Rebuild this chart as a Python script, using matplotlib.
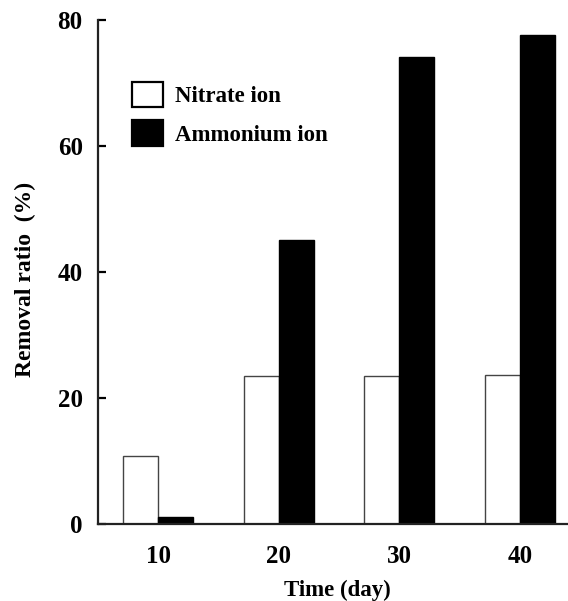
import numpy as np
import matplotlib
matplotlib.use("Agg")
import matplotlib.pyplot as plt
from matplotlib.patches import Patch

plt.rcParams['font.family'] = ['Liberation Serif', 'DejaVu Serif']
plt.rcParams['font.weight'] = 'bold'

# data
days = [10, 20, 30, 40]
nitrate = [10.8, 23.5, 23.5, 23.7]
ammonium = [1.1, 45.1, 74.1, 77.7]

fig = plt.figure(figsize=(5.68, 6.01), dpi=100)
ax = fig.add_axes([0.1725, 0.128, 0.8275, 0.8387])

w = 2.9
x = np.array(days, dtype=float)
ax.bar(x - w / 2, nitrate, width=w, color='white', edgecolor='#444444', linewidth=1.0)
ax.bar(x + w / 2, ammonium, width=w, color='black', edgecolor='black', linewidth=1.0)

ax.set_xlim(5, 44)
ax.set_ylim(0, 80)
ax.set_yticks([0, 20, 40, 60, 80])
ax.set_xticks(days)

for s in ['top', 'right']:
    ax.spines[s].set_visible(False)
for s in ['left', 'bottom']:
    ax.spines[s].set_linewidth(1.6)
    ax.spines[s].set_color('#222222')

ax.tick_params(axis='y', direction='in', length=6, width=1.6, pad=11, labelsize=18)
ax.tick_params(axis='x', length=0, pad=15, labelsize=18)
for lab in ax.get_xticklabels() + ax.get_yticklabels():
    lab.set_fontweight('bold')

ax.set_ylabel('Removal ratio  (%)', fontsize=17, fontweight='bold')
ax.yaxis.set_label_coords(-0.132, 0.486)
ax.set_xlabel('Time (day)', fontsize=16.5, fontweight='bold')
ax.xaxis.set_label_coords(0.51, -0.11)

handles = [Patch(facecolor='white', edgecolor='black', linewidth=1.6, label='Nitrate ion'),
           Patch(facecolor='black', edgecolor='black', linewidth=1.6, label='Ammonium ion')]
leg = ax.legend(handles=handles, loc='upper left', bbox_to_anchor=(0.232, 0.864),
                bbox_transform=fig.transFigure, frameon=False, fontsize=16.5,
                handlelength=1.35, handleheight=1.35, handletextpad=0.55,
                labelspacing=0.55, borderpad=0, borderaxespad=0)
for t in leg.get_texts():
    t.set_fontweight('bold')

fig.savefig('out.png', dpi=100)
